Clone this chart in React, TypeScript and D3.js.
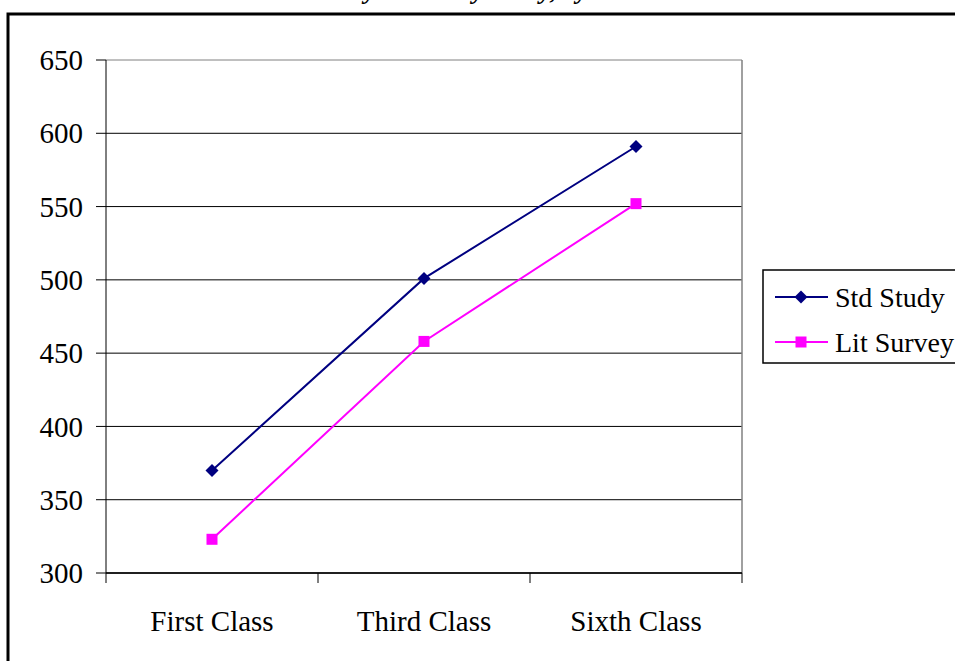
import React from "react";
import * as d3 from "d3";

const categories = ["First Class", "Third Class", "Sixth Class"];
const stdStudy = [370, 501, 591];
const litSurvey = [323, 458, 552];
const yTicks = [300, 350, 400, 450, 500, 550, 600, 650];
const seriesNames = ["Std Study", "Lit Survey"];
const titleText = "Literacy Scores by Study, by Class";

const W = 955;
const H = 661;
const plot = { left: 106, right: 742, top: 60, bottom: 573 };
const NAVY = "#000080";
const MAGENTA = "#FF00FF";
const FONT = "'Liberation Serif', 'Times New Roman', serif";
const FS = 29;

export default function App() {
  const x = d3
    .scaleBand<string>()
    .domain(categories)
    .range([plot.left, plot.right])
    .paddingInner(0)
    .paddingOuter(0);
  const y = d3.scaleLinear().domain([300, 650]).range([plot.bottom, plot.top]);
  const cx = (c: string) => (x(c) ?? 0) + x.bandwidth() / 2;

  const line = d3
    .line<number>()
    .x((_, i) => cx(categories[i]))
    .y((d) => y(d));

  const boundaries = [plot.left, ...categories.map((c) => (x(c) ?? 0) + x.bandwidth())];

  const diamond = (px: number, py: number, r = 6.5) =>
    `M${px},${py - r}L${px + r},${py}L${px},${py + r}L${px - r},${py}Z`;

  return (
    <svg
      width={W}
      height={H}
      style={{ position: "fixed", left: 0, top: 0, background: "#fff" }}
      fontFamily={FONT}
    >
      <rect x={0} y={0} width={W} height={H} fill="#fff" />
      <text
        x={470}
        y={-1}
        textAnchor="middle"
        fontSize={26}
        fontWeight="bold"
        fontStyle="italic"
        fill="#000"
      >
        {titleText}
      </text>
      {/* outer frame */}
      <rect x={8} y={14} width={1100} height={1000} fill="none" stroke="#000" strokeWidth={3} />

      {/* gridlines */}
      {yTicks.map((t) => (
        <line
          key={t}
          x1={plot.left}
          x2={plot.right}
          y1={y(t)}
          y2={y(t)}
          stroke={t === 650 ? "#808080" : "#000"}
          strokeWidth={1}
        />
      ))}
      {/* plot border right */}
      <line x1={plot.right} x2={plot.right} y1={plot.top} y2={plot.bottom} stroke="#808080" strokeWidth={1.5} />

      {/* y axis */}
      <line x1={plot.left} x2={plot.left} y1={plot.top} y2={plot.bottom} stroke="#000" strokeWidth={1} />
      {yTicks.map((t) => (
        <g key={"yt" + t}>
          <line x1={plot.left - 10} x2={plot.left} y1={y(t)} y2={y(t)} stroke="#000" />
          <text x={83} y={y(t)} dy="0.35em" textAnchor="end" fontSize={FS} fill="#000">
            {t}
          </text>
        </g>
      ))}

      {/* x axis */}
      <line x1={plot.left} x2={plot.right} y1={plot.bottom} y2={plot.bottom} stroke="#000" strokeWidth={1.5} />
      {boundaries.map((b, i) => (
        <line key={"xt" + i} x1={b} x2={b} y1={plot.bottom} y2={plot.bottom + 10} stroke="#000" />
      ))}
      {categories.map((c) => (
        <text key={c} x={cx(c)} y={631} textAnchor="middle" fontSize={FS} fill="#000">
          {c}
        </text>
      ))}

      {/* series */}
      <path d={line(stdStudy) ?? ""} fill="none" stroke={NAVY} strokeWidth={2} />
      <path d={line(litSurvey) ?? ""} fill="none" stroke={MAGENTA} strokeWidth={2} />
      {stdStudy.map((v, i) => (
        <path key={"s" + i} d={diamond(cx(categories[i]), y(v))} fill={NAVY} />
      ))}
      {litSurvey.map((v, i) => (
        <rect key={"l" + i} x={cx(categories[i]) - 5.5} y={y(v) - 5.5} width={11} height={11} fill={MAGENTA} />
      ))}

      {/* legend */}
      <rect x={763} y={270} width={300} height={93} fill="#fff" stroke="#000" strokeWidth={1.5} />
      {seriesNames.map((n, i) => {
        const ly = 297 + i * 45;
        const col = i === 0 ? NAVY : MAGENTA;
        return (
          <g key={n}>
            <line x1={775} x2={828} y1={ly} y2={ly} stroke={col} strokeWidth={2} />
            {i === 0 ? (
              <path d={diamond(801, ly)} fill={col} />
            ) : (
              <rect x={795.5} y={ly - 5.5} width={11} height={11} fill={col} />
            )}
            <text x={835} y={ly} dy="0.35em" fontSize={28} fill="#000">
              {n}
            </text>
          </g>
        );
      })}
    </svg>
  );
}
